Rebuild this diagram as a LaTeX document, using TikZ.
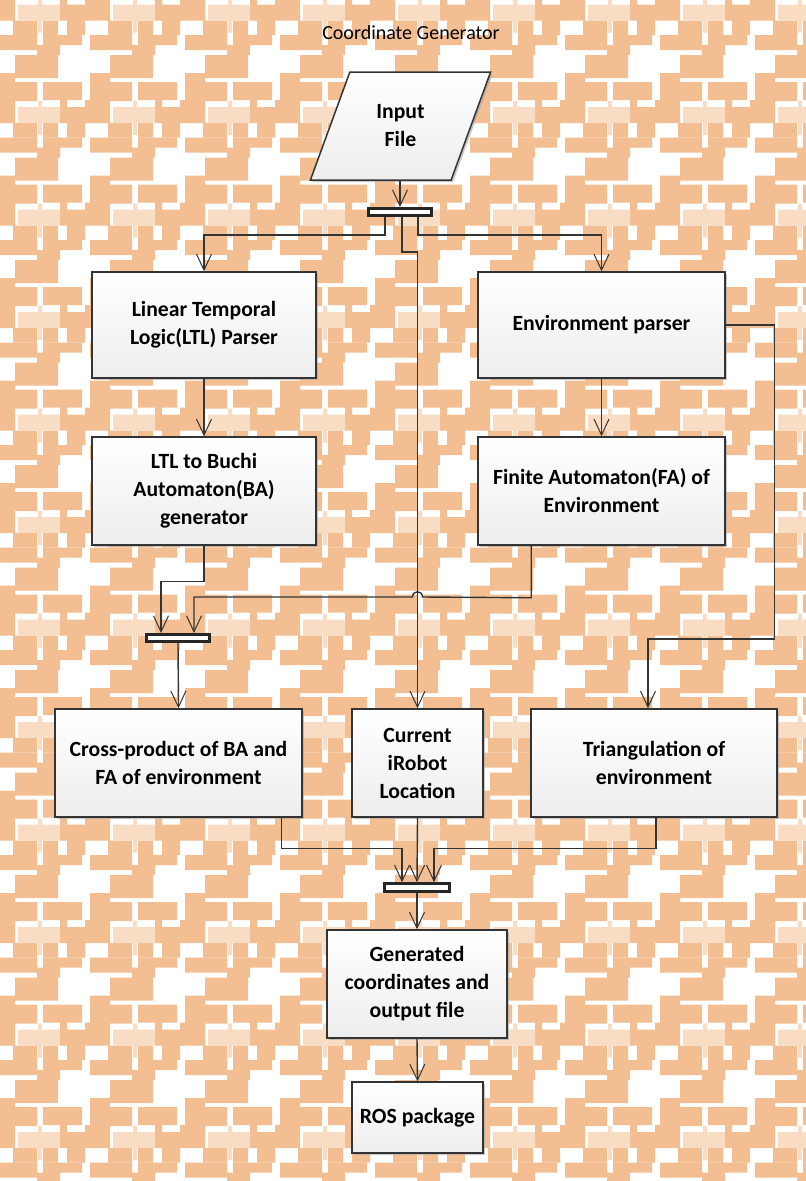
\documentclass[tikz,border=0pt]{standalone}
\usepackage{fontspec}
\setmainfont{Carlito}
\usetikzlibrary{arrows.meta,shapes.geometric,shadows}

\definecolor{patorange}{RGB}{242,190,146}
\definecolor{patlight}{RGB}{248,220,196}
\definecolor{linegray}{RGB}{52,52,52}

\begin{document}
\begin{tikzpicture}[x=1pt,y=-1pt,
	block/.style={rectangle,draw=linegray,line width=1.5pt,top color=white,bottom color=black!7,
		drop shadow={shadow xshift=2pt,shadow yshift=-2pt,fill=black!35,opacity=.6},
		font=\fontsize{21.7}{28}\selectfont\bfseries,align=center,inner sep=0pt},
	bar/.style={rectangle,draw=black!85,line width=2.6pt,fill=white,inner sep=0pt},
	arr/.style={draw=linegray,line width=1.4pt,-{Straight Barb[length=16pt,width=15pt,line width=1pt]}}]
	
	\useasboundingbox (0,0) rectangle (806,1181);
	
	% background pattern
	\begin{scope}
		\clip (0,0) rectangle (806,1181);
		\fill[white] (0,0) rectangle (806,1181);
		\foreach \i in {0,...,9}
		\foreach \j in {-1,...,11}
		{
			\begin{scope}[shift={(\i*95-10,\j*102.5+35)}]
				\fill[patorange] (5,0) rectangle (47,15) (53,0) rectangle (92,10)
				(47,10) rectangle (70,20) (25,20) rectangle (68,43)
				(5,38) rectangle (25,47) (5,47) rectangle (47,66)
				(53,47) rectangle (92,65) (0,65) rectangle (25,88)
				(70,65) rectangle (77,72) (70,72) rectangle (95,88)
				(23,88) rectangle (47,102.5) (53,88) rectangle (68,102.5)
				(77,88) rectangle (95,102.5);
				\fill[patlight] (28,72) rectangle (70,88) (48,66) rectangle (52,100);
			\end{scope}
		}
	\end{scope}
	
	\node[font=\fontsize{20}{24}\selectfont] (title) at (411,33) {Coordinate Generator};
	
	\node[block,trapezium,trapezium left angle=66,trapezium right angle=114,trapezium stretches=true,
		minimum width=181pt,minimum height=108pt] (in) at (400.5,126) {Input\\File};
	\node[bar,minimum width=63pt,minimum height=7.5pt] (bar1) at (400,212) {};
	
	\node[block,minimum width=224pt,minimum height=106pt] (ltlp) at (204,325) {Linear Temporal\\Logic(LTL) Parser};
	\node[block,minimum width=247pt,minimum height=106pt] (envp) at (601.5,325) {Environment parser};
	\node[block,minimum width=224pt,minimum height=108pt] (buchi) at (204,491) {LTL to Buchi\\Automaton(BA)\\generator};
	\node[block,minimum width=247pt,minimum height=108pt] (fa) at (601.5,491) {Finite Automaton(FA) of\\Environment};
	\node[bar,minimum width=63pt,minimum height=7.5pt] (bar2) at (178,638) {};
	
	\node[block,minimum width=247pt,minimum height=108pt] (cross) at (178.5,763) {Cross-product of BA and\\FA of environment};
	\node[block,minimum width=131pt,minimum height=108pt] (irobot) at (417.5,763) {Current\\iRobot\\Location};
	\node[block,minimum width=246pt,minimum height=108pt] (tri) at (654,763) {Triangulation of\\environment};
	\node[bar,minimum width=65pt,minimum height=8pt] (bar3) at (417,887.5) {};
	
	\node[block,minimum width=180pt,minimum height=108pt] (gen) at (417,984) {Generated\\coordinates and\\output file};
	\node[block,minimum width=131pt,minimum height=71pt] (ros) at (417.5,1117.5) {ROS package};
	
	\coordinate (tribend) at (648,639);
	\coordinate (hop) at (417.5,597);
	
	\draw[arr] (in.south -| bar1.north) -- (bar1.north);
	\draw[arr] ([xshift=-15pt]bar1.south) -- ++(0,18) -| (ltlp.north);
	\draw[arr] ([xshift=18pt]bar1.south) -- ++(0,18) -| (envp.north);
	\draw[arr] ([xshift=2pt]bar1.south) -- ++(0,35) -| (irobot.north);
	\draw[arr] (ltlp.south) -- (buchi.north);
	\draw[arr] (envp.south) -- (fa.north);
	\draw[arr] (envp.east) -- ++(49,0) |- (tribend) -- (tribend |- tri.north);
	\draw[arr] (buchi.south) -- ++(0,36) -| ([xshift=-17pt]bar2.north);
	\draw[arr] ([xshift=54pt]fa.south west) -- ++(0,52) -- ([xshift=5pt]hop)
	.. controls ([xshift=5pt,yshift=7pt]hop) and ([xshift=-5pt,yshift=7pt]hop) .. ([xshift=-5pt]hop)
	-| ([xshift=16pt]bar2.north);
	\draw[arr] (bar2.south) -- (cross.north);
	\draw[arr] ([xshift=-21pt]cross.south east) -- ++(0,31) -| ([xshift=-15pt]bar3.north);
	\draw[arr] (irobot.south) -- (bar3.north);
	\draw[arr] ([xshift=2pt]tri.south) -- ++(0,31) -| ([xshift=17pt]bar3.north);
	\draw[arr] (bar3.south) -- (gen.north);
	\draw[arr] (gen.south) -- (ros.north);
\end{tikzpicture}
\end{document}
